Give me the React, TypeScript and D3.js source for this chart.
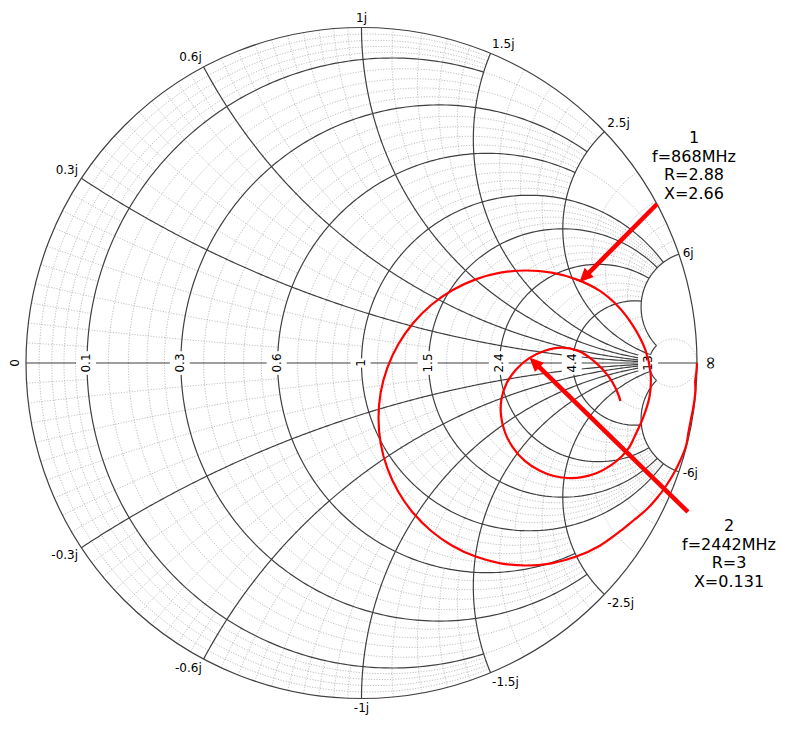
import React from 'react';
import * as d3 from 'd3';

// ---------- data ----------
const resistanceTicks = [0.1, 0.3, 0.6, 1, 1.5, 2.4, 4.4, 13];
const resistanceTickLabels = ['0.1', '0.3', '0.6', '1', '1.5', '2.4', '4.4', '13'];
const resistanceMajorMaxX = [1.5, 2.5, 2.5, 6, 6, 6, 6, 6];
const reactanceTicks = [0.3, 0.6, 1, 1.5, 2.5, 6];
const reactanceTickLabels = ['0.3j', '0.6j', '1j', '1.5j', '2.5j', '6j'];
const reactanceMajorMaxR = [13, 13, 13, 13, 13, 13];

// reflection coefficient trace (real part, imaginary part)
const traceRe = [1.0, 0.9982, 0.9946, 0.9952, 0.9928, 0.9881, 0.9821, 0.9747, 0.9672, 0.9508, 0.9314, 0.9076, 0.8808, 0.851, 0.8122, 0.772, 0.7101, 0.6405, 0.5666, 0.4903, 0.414, 0.3401, 0.2705, 0.2077, 0.1535, 0.1097, 0.0772, 0.0572, 0.0507, 0.0572, 0.0772, 0.1097, 0.1535, 0.2077, 0.2705, 0.3401, 0.414, 0.4903, 0.5666, 0.6405, 0.7094, 0.7672, 0.8122, 0.8453, 0.8614, 0.8587, 0.839, 0.8131, 0.8003, 0.7768, 0.7398, 0.7016, 0.6578, 0.6134, 0.5735, 0.5303, 0.4867, 0.4504, 0.428, 0.4161, 0.417, 0.4325, 0.4614, 0.5002, 0.5463, 0.5964, 0.6459, 0.6876, 0.7213, 0.7478, 0.7666, 0.7714];
const traceIm = [0, -0.0268, -0.0537, -0.0805, -0.1073, -0.1371, -0.1669, -0.2057, -0.2474, -0.2891, -0.3279, -0.3666, -0.4024, -0.4352, -0.468, -0.5007, -0.5446, -0.577, -0.597, -0.6036, -0.597, -0.577, -0.5446, -0.5007, -0.4465, -0.3838, -0.3142, -0.2402, -0.1639, -0.0876, -0.0137, 0.0559, 0.1186, 0.1729, 0.2167, 0.2492, 0.2692, 0.2757, 0.2692, 0.2492, 0.2155, 0.166, 0.1061, 0.041, -0.0289, -0.099, -0.1639, -0.2209, -0.2477, -0.2772, -0.3076, -0.3279, -0.3404, -0.3428, -0.3368, -0.3204, -0.2918, -0.2504, -0.2072, -0.1589, -0.1088, -0.0605, -0.0185, 0.0146, 0.0367, 0.0459, 0.0361, 0.0104, -0.0218, -0.0572, -0.0969, -0.1133];

// markers
const markerIds = ['1', '2'];
const markerFreqs = ['868MHz', '2442MHz'];
const markerR = [2.88, 3];
const markerX = [2.66, 0.131];
const markerRText = ['2.88', '3'];
const markerXText = ['2.66', '0.131'];

// ---------- layout ----------
const WIDTH = 801;
const HEIGHT = 732;
const CX = 361.5;
const CY = 363;
const RADIUS = 335.5;
const DIVIDERS = [1, 2, 3, 5, 10, 20];
const T_R = 11;
const T_X = 15;
// arrow tails & text anchors (in reflection-plane coordinates)
const arrowTail = [[0.881, 0.474], [0.973, -0.444]];
const textAnchorPos = [[0.991, 0.6557], [1.0954, -0.5007]];

function gamma(r: number, x: number): [number, number] {
  if (!isFinite(r) || !isFinite(x)) return [1, 0];
  const den = (r + 1) * (r + 1) + x * x;
  return [(r * r - 1 + x * x) / den, (2 * x) / den];
}

function pickDivider(px: number, t: number) {
  let best = 1;
  for (const d of DIVIDERS) if (px / d >= t) best = d;
  return best;
}

export default function App() {
  const sx = d3.scaleLinear().domain([-1, 1]).range([CX - RADIUS, CX + RADIUS]);
  const sy = d3.scaleLinear().domain([-1, 1]).range([CY + RADIUS, CY - RADIUS]);
  const line = d3.line<[number, number]>().x((d) => sx(d[0])).y((d) => sy(d[1]));

  const tanOr = (u: number) => (Math.abs(u) >= Math.PI / 2 - 1e-12 ? Math.sign(u) * Infinity : Math.tan(u));

  const rArc = (r: number, x0: number, x1: number, n = 160) => {
    const u0 = Math.atan(x0), u1 = Math.atan(x1);
    const pts = d3.range(n + 1).map((i) => gamma(r, tanOr(u0 + ((u1 - u0) * i) / n)));
    return line(pts) as string;
  };
  const xArc = (x: number, r0: number, r1: number, n = 160) => {
    const v0 = Math.atan(r0), v1 = Math.atan(r1);
    const pts = d3.range(n + 1).map((i) => gamma(tanOr(v0 + ((v1 - v0) * i) / n), x));
    return line(pts) as string;
  };
  const pxDist = (a: [number, number], b: [number, number]) => Math.hypot(a[0] - b[0], a[1] - b[1]) * RADIUS;

  const R_ALL = [0, ...resistanceTicks, Infinity];
  const X_ALL = [0, ...reactanceTicks, Infinity];

  // minor grid
  const minorPaths: string[] = [];
  for (let k = 0; k < X_ALL.length - 1; k++) {
    const xa = X_ALL[k], xb = X_ALL[k + 1];
    if (!isFinite(xb)) continue;
    const active = [0, ...resistanceTicks.filter((_, i) => resistanceMajorMaxX[i] >= xb), Infinity];
    for (let j = 0; j < active.length - 1; j++) {
      const a = active[j], b = active[j + 1];
      if (!isFinite(b)) continue;
      const base = R_ALL.indexOf(b) - R_ALL.indexOf(a) === 1;
      const xm = (xa + xb) / 2;
      const px = base ? pxDist(gamma(a, 0), gamma(b, 0)) : pxDist(gamma(a, xm), gamma(b, xm));
      const d = pickDivider(px, T_R);
      for (let m = 1; m < d; m++) {
        const r = a + ((b - a) * m) / d;
        minorPaths.push(rArc(r, xa, xb, 60));
        minorPaths.push(rArc(r, -xb, -xa, 60));
      }
    }
  }
  for (let i = 0; i < R_ALL.length - 1; i++) {
    const ra = R_ALL[i], rb = R_ALL[i + 1];
    if (!isFinite(rb)) continue;
    const active = [0, ...reactanceTicks.filter((_, k) => reactanceMajorMaxR[k] >= rb), Infinity];
    const rm = (ra + rb) / 2;
    for (let j = 0; j < active.length - 1; j++) {
      const a = active[j], b = active[j + 1];
      if (!isFinite(b)) continue;
      const d = pickDivider(pxDist(gamma(rm, a), gamma(rm, b)), T_X);
      for (let m = 1; m < d; m++) {
        const x = a + ((b - a) * m) / d;
        minorPaths.push(xArc(x, ra, rb, 60));
        minorPaths.push(xArc(-x, ra, rb, 60));
      }
    }
  }
  // continuation of the last resistance circle as minor line
  const lastI = resistanceTicks.length - 1;
  minorPaths.push(rArc(resistanceTicks[lastI], resistanceMajorMaxX[lastI], Infinity, 80));
  minorPaths.push(rArc(resistanceTicks[lastI], -Infinity, -resistanceMajorMaxX[lastI], 80));

  // major grid
  const majorPaths: string[] = [];
  resistanceTicks.forEach((r, i) => majorPaths.push(rArc(r, -resistanceMajorMaxX[i], resistanceMajorMaxX[i], 300)));
  reactanceTicks.forEach((x, k) => {
    majorPaths.push(xArc(x, 0, reactanceMajorMaxR[k], 300));
    majorPaths.push(xArc(-x, 0, reactanceMajorMaxR[k], 300));
  });

  const traceSmooth = d3
    .line<[number, number]>()
    .x((d) => sx(d[0]))
    .y((d) => sy(d[1]))
    .curve(d3.curveCatmullRom.alpha(0.5))(traceRe.map((v, i) => [v, traceIm[i]] as [number, number]));

  const font = 'DejaVu Sans, sans-serif';

  // reactance labels
  const reactLabels: any[] = [];
  reactanceTicks.forEach((x, k) => {
    [1, -1].forEach((s) => {
      const g = gamma(0, s * x);
      const px = sx(g[0]), py = sy(g[1]);
      const c = g[0], sn = g[1];
      const anchor = c > 0.2 ? 'start' : c < -0.2 ? 'end' : 'middle';
      const tx = px + 4 * c;
      const ty = py - 4 * sn;
      let base = ty + 4;
      if (sn > 0.4) base = ty - 2;
      else if (sn < -0.4) base = ty + 9.5;
      reactLabels.push(
        <text key={`xl${k}${s}`} x={tx} y={base} textAnchor={anchor} fontSize={12} fontFamily={font} fill="#000">
          {(s < 0 ? '-' : '') + reactanceTickLabels[k]}
        </text>
      );
    });
  });

  const realLabel = (key: string, label: string, x: number, size = 12, bg = true) => {
    const w = label.length * size * 0.6;
    return (
      <g key={key} transform={`translate(${x},${CY}) rotate(-90)`}>
        {bg && <rect x={-w / 2 - 1} y={-10} width={w + 2} height={20} fill="#fff" />}
        <text x={0} y={0} dy="0.36em" textAnchor="middle" fontSize={size} fontFamily={font} fill="#000">
          {label}
        </text>
      </g>
    );
  };

  const arrowEls = markerR.map((r, i) => {
    const tip = gamma(r, markerX[i]);
    const x1 = sx(arrowTail[i][0]), y1 = sy(arrowTail[i][1]);
    const x2 = sx(tip[0]), y2 = sy(tip[1]);
    const ang = Math.atan2(y2 - y1, x2 - x1);
    const hl = 14, hw = 6.5;
    const bx = x2 - hl * Math.cos(ang), by = y2 - hl * Math.sin(ang);
    const nx = -Math.sin(ang), ny = Math.cos(ang);
    return (
      <g key={`ar${i}`}>
        <line x1={x1} y1={y1} x2={bx + 2 * Math.cos(ang)} y2={by + 2 * Math.sin(ang)} stroke="#ff0000" strokeWidth={4.5} />
        <polygon points={`${x2},${y2} ${bx + hw * nx},${by + hw * ny} ${bx - hw * nx},${by - hw * ny}`} fill="#ff0000" />
      </g>
    );
  });

  const textEls = markerIds.map((id, i) => {
    const tx = sx(textAnchorPos[i][0]);
    const ty = sy(textAnchorPos[i][1]);
    const lines = [id, `f=${markerFreqs[i]}`, `R=${markerRText[i]}`, `X=${markerXText[i]}`];
    return (
      <text key={`tx${i}`} x={tx} y={ty} textAnchor="middle" fontSize={16} fontFamily={font} fill="#000">
        {lines.map((l, j) => (
          <tspan key={j} x={tx} dy={j === 0 ? 0 : 18.7}>
            {l}
          </tspan>
        ))}
      </text>
    );
  });

  return (
    <svg width={WIDTH} height={HEIGHT} style={{ position: 'absolute', left: 0, top: 0 }}>
      <rect width={WIDTH} height={HEIGHT} fill="#fff" />
      <g fill="none" stroke="#a8a8a8" strokeWidth={0.8} strokeDasharray="1.1,1.6">
        {minorPaths.map((p, i) => (
          <path key={i} d={p} />
        ))}
      </g>
      <g fill="none" stroke="#404040" strokeWidth={1.2}>
        {majorPaths.map((p, i) => (
          <path key={i} d={p} />
        ))}
        <line x1={sx(-1)} y1={CY} x2={sx(1)} y2={CY} />
        <circle cx={CX} cy={CY} r={RADIUS} />
      </g>
      {resistanceTicks.map((r, i) => realLabel(`rl${i}`, resistanceTickLabels[i], sx(gamma(r, 0)[0]) - 1))}
      {realLabel('zero', '0', sx(-1) - 11, 12, false)}
      {realLabel('inf', '∞', sx(1) + 13, 18, false)}
      {reactLabels}
      <path d={traceSmooth as string} fill="none" stroke="#ff0000" strokeWidth={2.2} />
      {arrowEls}
      {textEls}
    </svg>
  );
}
